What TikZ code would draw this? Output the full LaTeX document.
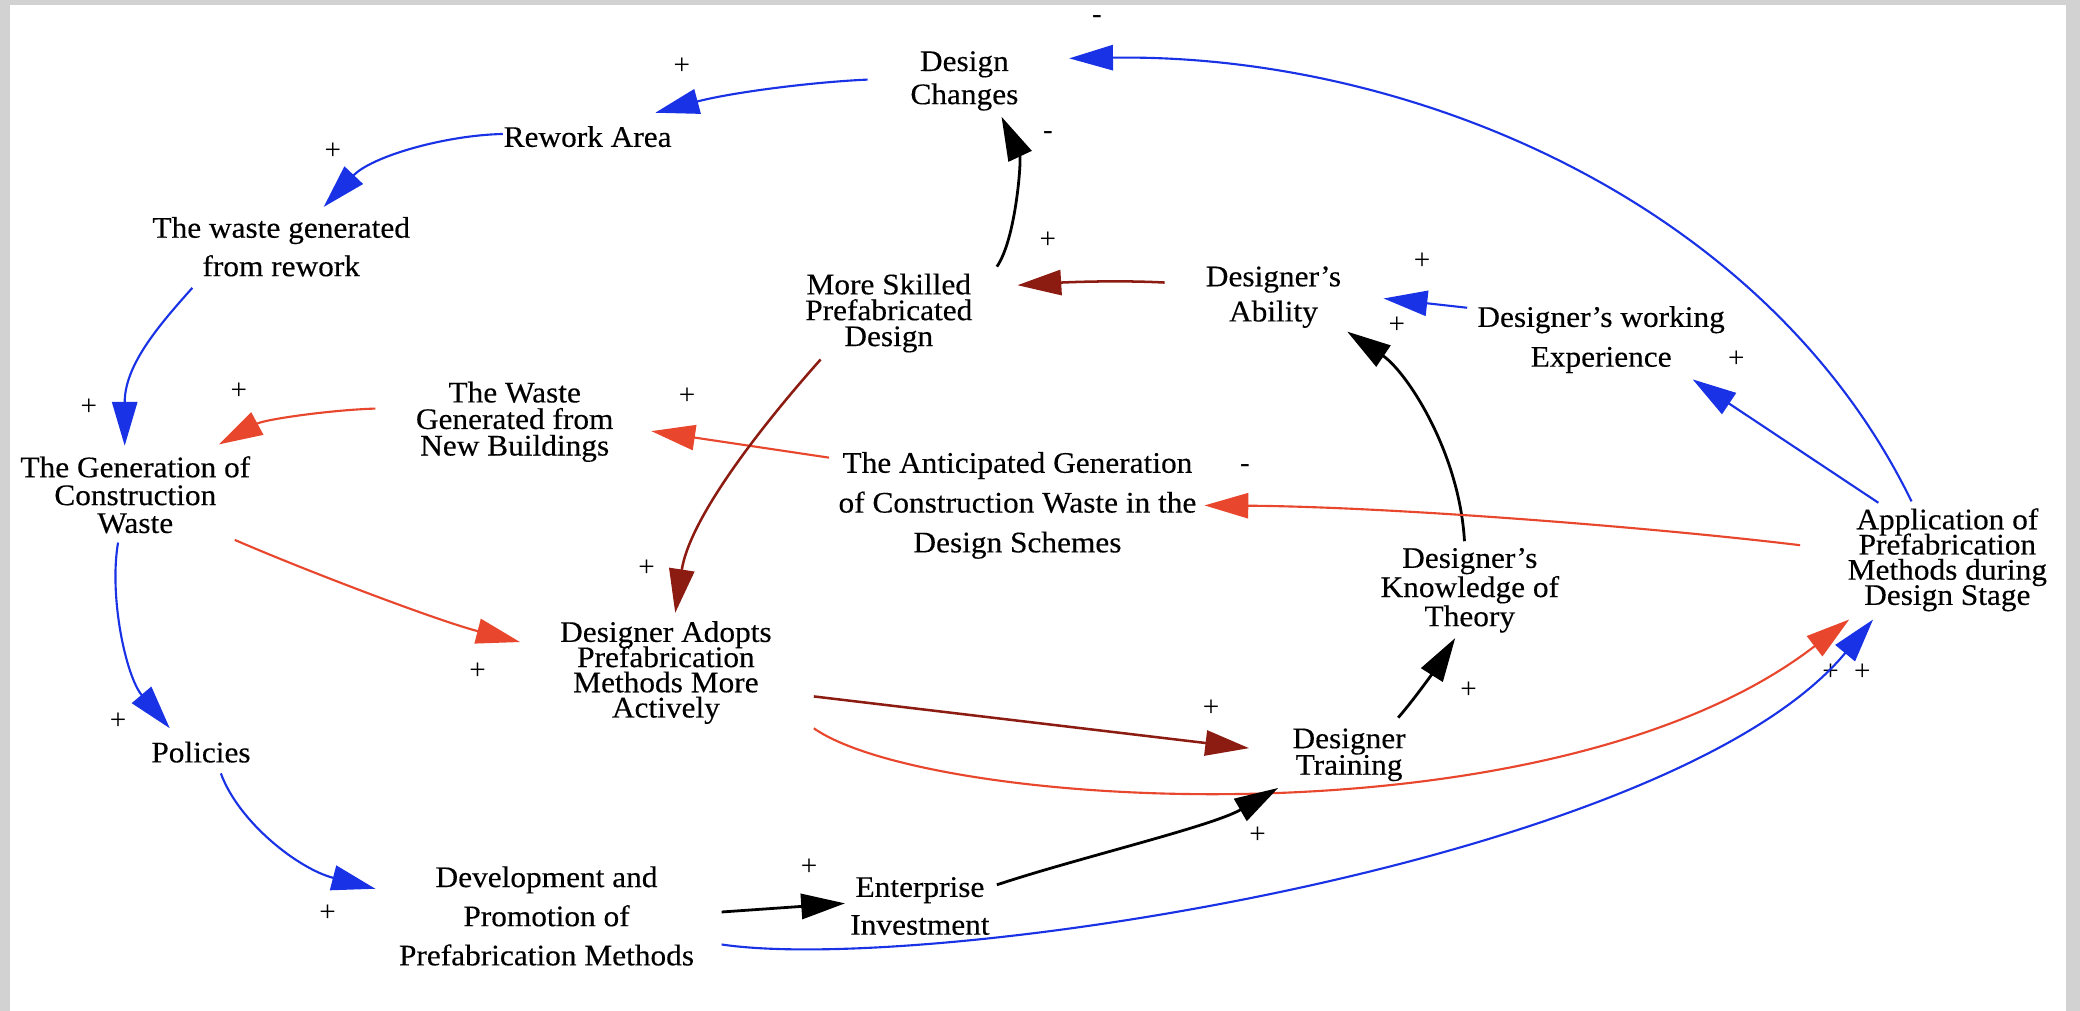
\documentclass[tikz,border=0pt]{standalone}
\usepackage{fontspec}
\setmainfont[FakeStretch=1.05,FakeBold=0.3]{Liberation Serif}
\newfontfamily\signfont{Liberation Serif}
\usetikzlibrary{calc,arrows.meta}
\definecolor{cdblue}{RGB}{25,50,230}
\definecolor{cdred}{RGB}{232,70,45}
\definecolor{cddark}{RGB}{140,28,18}
\definecolor{frame}{RGB}{210,210,210}
\lineskiplimit=-100pt
\lineskip=0pt
\begin{document}
\begin{tikzpicture}[x=1pt,y=-1pt,
  lab/.style={align=center,inner sep=0pt,font={\fontsize{22.5}{#1}\selectfont}},
  lab/.default=24,
  sgn/.style={inner sep=0pt,font={\signfont\fontsize{22}{24}\selectfont}},
  lnk/.style={line width=1.6pt,-{Triangle[length=33pt,width=19pt]}},
  bl/.style={lnk,cdblue},
  rd/.style={lnk,cdred},
  dr/.style={lnk,cddark,line width=1.9pt},
  bk/.style={lnk,black,line width=2.1pt}]
\fill[frame] (0,0) rectangle (1568,762);
\fill[white] (7.4,3.8) rectangle (1557.5,762);
\useasboundingbox (0,0) rectangle (1568,762);

% nodes
\node[lab=25] (DC) at (727,61) {Design\\Changes};
\node[lab] (RA) at (443,103) {Rework Area};
\node[lab=29] (WR) at (212,186) {The waste generated\\from rework};
\node[lab=21] (GCW) at (102,373) {The Generation of\\Construction\\Waste};
\node[lab=20] (WNB) at (388,318) {The Waste\\Generated from\\New Buildings};
\node[lab=19.5] (MSPD) at (670,236) {More Skilled\\Prefabricated\\Design};
\node[lab=26.5] (DA) at (960,224) {Designer’s\\Ability};
\node[lab=30] (DWE) at (1207,256) {Designer’s working\\Experience};
\node[lab=30] (ANT) at (767,381) {The Anticipated Generation\\of Construction Waste in the\\Design Schemes};
\node[lab=19] (APP) at (1468,422) {Application of\\Prefabrication\\Methods during\\Design Stage};
\node[lab=22] (DKT) at (1108,445) {Designer’s\\Knowledge of\\Theory};
\node[lab=19] (DAPM) at (502,507) {Designer Adopts\\Prefabrication\\Methods More\\Actively};
\node[lab=20] (DT) at (1017,569) {Designer\\Training};
\node[lab] (POL) at (151.5,567) {Policies};
\node[lab=29.5] (DPM) at (412,690.5) {Development and\\Promotion of\\Prefabrication Methods};
\node[lab=28.5] (EI) at (693.5,683) {Enterprise\\Investment};

% signs
\node[sgn] (s1) at (827,15) {-};
\node[sgn] (s2) at (514,50) {+};
\node[sgn] (s3) at (251,114) {+};
\node[sgn] (s4) at (67,307) {+};
\node[sgn] (s5) at (180,295) {+};
\node[sgn] (s6) at (518,299) {+};
\node[sgn] (s7) at (790,102) {-};
\node[sgn] (s8) at (790,181) {+};
\node[sgn] (s9) at (1072,197) {+};
\node[sgn] (s10) at (1053,245) {+};
\node[sgn] (s11) at (1309,271) {+};
\node[sgn] (s12) at (938.5,353) {-};
\node[sgn] (s13) at (487.5,428) {+};
\node[sgn] (s14) at (360,506) {+};
\node[sgn] (s15) at (913,534) {+};
\node[sgn] (s16) at (1107,520) {+};
\node[sgn] (s17) at (1380,506.5) {+};
\node[sgn] (s18) at (1404,506.5) {+};
\node[sgn] (s19) at (89,544) {+};
\node[sgn] (s20) at (948,630) {+};
\node[sgn] (s21) at (610,653.5) {+};
\node[sgn] (s22) at (247,688.5) {+};

% connectors
\draw[bl] ($(APP)+(-27,-44)$) .. controls +(-111,-228) and +(254,-4) .. ($(DC)+(79,-17)$);
\draw[bl] ($(DC)+(-73,-1)$) .. controls +(-44,2) and +(56,-15) .. ($(RA)+(51,-18)$);
\draw[bl] ($(RA)+(-64,-2)$) .. controls +(-44,1) and +(36,-38) .. ($(WR)+(32,-30)$);
\draw[bl] ($(WR)+(-67,31)$) .. controls +(-25,28) and +(0,-61) .. ($(GCW)+(-8,-37)$);
\draw[rd] ($(WNB)+(-105,-10)$) .. controls +(-33,1) and +(35,-19) .. ($(GCW)+(63,-38)$);
\draw[rd] ($(ANT)+(-142,-36)$) -- ($(WNB)+(103,7)$);
\draw[bk] ($(MSPD)+(81.5,-35)$) .. controls +(14.5,-21) and +(15,32) .. ($(DC)+(28,27)$);
\draw[dr] ($(DA)+(-82,-11)$) .. controls +(-38,-2) and +(33,-2) .. ($(MSPD)+(97,-21)$);
\draw[dr] ($(MSPD)+(-51.4,35)$) .. controls +(-43.6,49) and +(11,-72) .. ($(DAPM)+(7,-45)$);
\draw[rd] ($(GCW)+(75,34)$) .. controls +(53,23) and +(-62,-16) .. ($(DAPM)+(-110,-23)$);
\draw[bl] ($(GCW)+(-13,36)$) .. controls +(-7,41) and +(-33,-39) .. ($(POL)+(-23.5,-18)$);
\draw[bl] ($(POL)+(15,16)$) .. controls +(13.5,37) and +(-58,-15) .. ($(DPM)+(-129,-20.5)$);
\draw[bk] ($(DPM)+(132,-3)$) -- ($(EI)+(-56.5,-2)$);
\draw[bl] ($(DPM)+(132,21.5)$) .. controls +(156,23) and +(-152,183) .. ($(APP)+(-56,45)$);
\draw[rd] ($(DAPM)+(111.5,42)$) .. controls +(86.5,61) and +(-224,173) .. ($(APP)+(-74,45)$);
\draw[dr] ($(DAPM)+(111.5,18)$) -- ($(DT)+(-75.4,-5)$);
\draw[bk] ($(EI)+(58,-16)$) .. controls +(60,-20) and +(-50,29) .. ($(DT)+(-53.5,25)$);
\draw[bk] ($(DT)+(37,-28)$) .. controls +(14,-16) and +(-12,19) .. ($(DKT)+(-11,36)$);
\draw[bk] ($(DKT)+(-4,-37)$) .. controls +(-4,-68) and +(44.4,30) .. ($(DA)+(55.6,26)$);
\draw[bl] ($(DWE)+(-101,-24)$) -- ($(DA)+(83,1)$);
\draw[bl] ($(APP)+(-52,-43)$) -- ($(DWE)+(69,30)$);
\draw[rd] ($(APP)+(-111,-11)$) .. controls +(-107,-13) and +(142,1) .. ($(ANT)+(141,0)$);
\end{tikzpicture}
\end{document}
